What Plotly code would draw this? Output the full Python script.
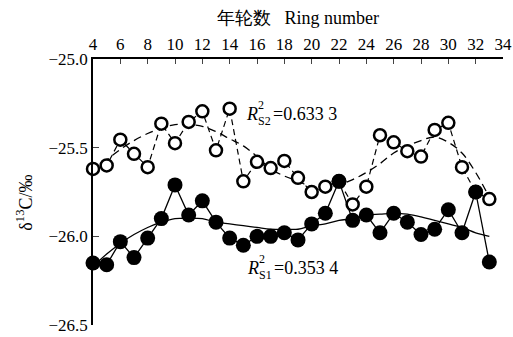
import plotly.graph_objects as go

ring = list(range(4, 34))
s2 = [-25.62, -25.60, -25.455, -25.535, -25.61, -25.365, -25.475, -25.355, -25.295, -25.515,
      -25.28, -25.69, -25.58, -25.615, -25.575, -25.67, -25.75, -25.72, -25.69, -25.82,
      -25.72, -25.43, -25.47, -25.52, -25.55, -25.40, -25.36, -25.61, -25.75, -25.79]
s1 = [-26.15, -26.16, -26.03, -26.12, -26.01, -25.90, -25.71, -25.88, -25.80, -25.92,
      -26.01, -26.05, -26.00, -26.00, -25.98, -26.02, -25.93, -25.87, -25.69, -25.91,
      -25.88, -25.98, -25.87, -25.92, -25.99, -25.96, -25.85, -25.98, -25.75, -26.145]
# trend lines
s2_trend = [-25.64, -25.57, -25.51, -25.46, -25.42, -25.39, -25.37, -25.37, -25.38, -25.41,
            -25.45, -25.49, -25.55, -25.62, -25.66, -25.69, -25.72, -25.73, -25.71, -25.68,
            -25.64, -25.59, -25.53, -25.49, -25.46, -25.44, -25.47, -25.53, -25.64, -25.78]
s1_trend = [-26.17, -26.10, -26.04, -25.99, -25.95, -25.92, -25.90, -25.90, -25.90, -25.92,
            -25.93, -25.94, -25.95, -25.96, -25.96, -25.96, -25.94, -25.93, -25.91, -25.90,
            -25.88, -25.875, -25.87, -25.875, -25.89, -25.91, -25.93, -25.95, -25.98, -26.00]
x_ticks = list(range(4, 35, 2))
y_ticks = [-25.0, -25.5, -26.0, -26.5]
labels = [("S2", "=0.633 3", 15.05, -25.31), ("S1", "=0.353 4", 15.1, -26.18)]

FONT = "Liberation Serif"
fig = go.Figure()
fig.add_trace(go.Scatter(x=ring, y=s2_trend, mode="lines", line=dict(color="black", width=1.3, dash="8px,5px", shape="spline"),
                         showlegend=False, hoverinfo="skip"))
fig.add_trace(go.Scatter(x=ring, y=s1_trend, mode="lines", line=dict(color="black", width=1.3, shape="spline"),
                         showlegend=False, hoverinfo="skip"))
fig.add_trace(go.Scatter(x=ring, y=s2, mode="lines+markers", line=dict(color="black", width=1.2, dash="6px,4px"),
                         marker=dict(symbol="circle", size=12, color="white", line=dict(color="black", width=2.5)),
                         showlegend=False, cliponaxis=False))
fig.add_trace(go.Scatter(x=ring, y=s1, mode="lines+markers", line=dict(color="black", width=1.3),
                         marker=dict(symbol="circle", size=15, color="black", line=dict(color="black", width=0)),
                         showlegend=False, cliponaxis=False))

for sub, val, lx, ly in labels:
    common = dict(x=lx, y=ly, xref="x", yref="y", xanchor="left", yanchor="middle", showarrow=False)
    fig.add_annotation(**common, text="<i>R</i>", font=dict(family=FONT, size=18, color="black"))
    fig.add_annotation(**common, text="2<br>" + sub, align="left", xshift=12, yshift=1,
                       font=dict(family=FONT, size=12, color="black"))
    fig.add_annotation(**common, text=val, xshift=27, font=dict(family=FONT, size=18, color="black"))

fig.add_annotation(x=0.5, y=1, xref="paper", yref="paper", yshift=41, xanchor="center", yanchor="middle",
                   showarrow=False, text="年轮数\u00a0\u00a0\u00a0Ring number", font=dict(family=FONT, size=18, color="black"))
fig.add_annotation(x=0, y=0.46, xref="paper", yref="paper", xshift=-68, xanchor="center", yanchor="middle",
                   textangle=-90, showarrow=False, text="δ<sup>13</sup>C/‰", font=dict(family=FONT, size=18, color="black"))

fig.update_layout(
    width=513, height=337,
    margin=dict(l=93, r=10, t=59, b=12),
    paper_bgcolor="white", plot_bgcolor="white",
    font=dict(family=FONT, size=17, color="black"),
    xaxis=dict(side="top", range=[4, 34], tickvals=x_ticks, ticks="inside", ticklen=5, tickwidth=1.3,
               showline=True, linecolor="black", linewidth=1.5, showgrid=False, zeroline=False, automargin=False,
               tickfont=dict(family=FONT, size=17)),
    yaxis=dict(range=[-26.5, -25.0], tickvals=y_ticks, tickformat=".1f", ticks="inside", ticklen=6, tickwidth=1.3,
               showline=True, linecolor="black", linewidth=1.5, showgrid=False, zeroline=False, automargin=False,
               tickfont=dict(family=FONT, size=17)),
)
fig.write_html("out.html", config={"displayModeBar": False},
               post_script="document.body.style.margin='0';document.body.style.overflow='hidden';")
